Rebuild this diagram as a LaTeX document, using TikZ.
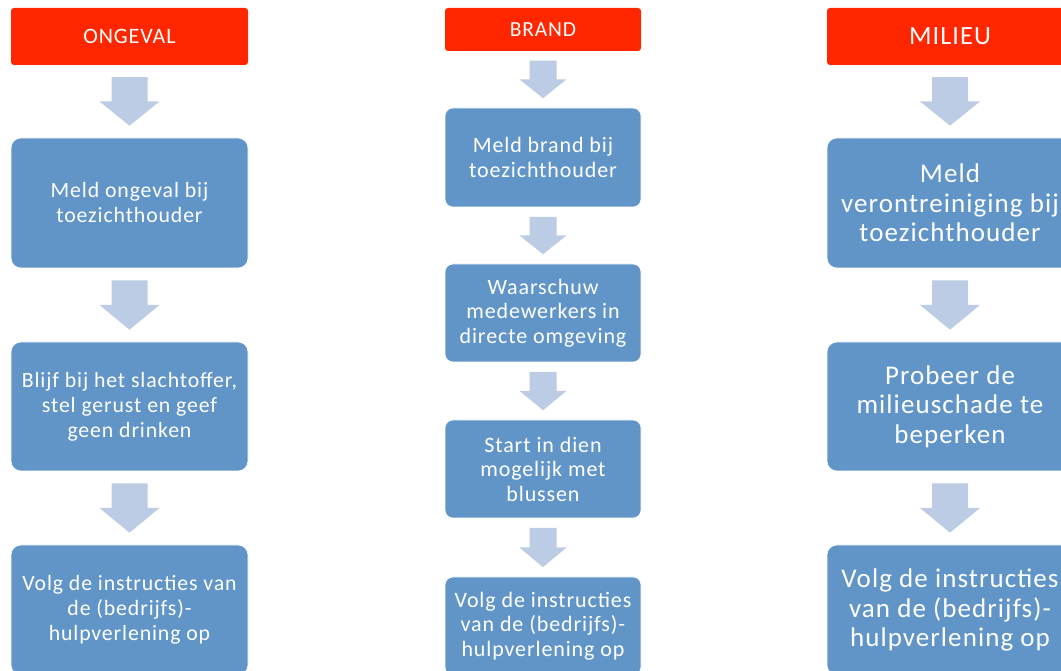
\documentclass[tikz,border=0pt]{standalone}
\usepackage{fontspec}
\setmainfont[LetterSpace=4]{Carlito}
\usetikzlibrary{calc,positioning}

\definecolor{kopRood}{RGB}{255,38,0}
\definecolor{stapBlauw}{RGB}{97,149,200}
\definecolor{pijlBlauw}{RGB}{188,204,228}

% blok-pijl van #1 naar #2, marge #3, halve schachtbreedte #4, halve kopbreedte #5
\newcommand{\blokpijl}[5]{%
	\fill[pijlBlauw] let \p1=(#1.south), \p2=(#2.north), \n1={(\y1+\y2)/2} in
		(\x1-#4,\y1-#3) -- (\x1+#4,\y1-#3) -- (\x1+#4,\n1) -- (\x1+#5,\n1)
		-- (\x1,\y2+#3) -- (\x1-#5,\n1) -- (\x1-#4,\n1) -- cycle;}

\begin{document}
\begin{tikzpicture}[x=1pt,y=1pt,
		kop/.style={fill=kopRood,text=white,rounded corners=3pt,inner sep=0pt,align=center},
		stap/.style={fill=stapBlauw,draw=white,line width=0.6pt,text=white,rounded corners=10pt,inner sep=0pt,align=center},
		klein/.style={font=\fontsize{21.8}{25}\selectfont},
		groot/.style={font=\fontsize{27}{29.5}\selectfont}
	]
	\useasboundingbox (0,0) rectangle (1061,670);

	% ongeval
	\node[kop,minimum width=237,minimum height=57,font=\fontsize{22}{25}\selectfont] (ong0) at (129.5,633.5) {ONGEVAL};
	\node[stap,klein,minimum width=237,minimum height=130] (ong1) at (129.5,467) {Meld ongeval bij\\toezichthouder};
	\node[stap,klein,minimum width=237,minimum height=129] (ong2) at (129.5,263.5) {Blijf bij het slachtoffer,\\stel gerust en geef\\geen drinken};
	\node[stap,klein,minimum width=237,minimum height=130] (ong3) at (129.5,60) {Volg de instructies van\\de (bedrijfs)-\\hulpverlening op};

	\blokpijl{ong0}{ong1}{12}{18}{30}
	\blokpijl{ong1}{ong2}{12}{18}{30}
	\blokpijl{ong2}{ong3}{12}{18}{30}

	% brand
	\node[kop,minimum width=196,minimum height=43,font=\fontsize{21.5}{24}\selectfont] (brd0) at (543,640.5) {BRAND};
	\node[stap,font=\fontsize{22}{24.5}\selectfont,rounded corners=8pt,minimum width=196,minimum height=99] (brd1) at (543,512.5) {Meld brand bij\\toezichthouder};
	\node[stap,font=\fontsize{22}{24.5}\selectfont,rounded corners=8pt,minimum width=196,minimum height=98] (brd2) at (543,357) {Waarschuw\\medewerkers in\\directe omgeving};
	\node[stap,font=\fontsize{22}{24.5}\selectfont,rounded corners=8pt,minimum width=196,minimum height=98] (brd3) at (543,201) {Start in dien\\mogelijk met\\blussen};
	\node[stap,font=\fontsize{22}{24.5}\selectfont,rounded corners=8pt,minimum width=196,minimum height=98] (brd4) at (543,44) {Volg de instructies\\van de (bedrijfs)-\\hulpverlening op};

	\blokpijl{brd0}{brd1}{9.5}{13.5}{23.5}
	\blokpijl{brd1}{brd2}{9.5}{13.5}{23.5}
	\blokpijl{brd2}{brd3}{9.5}{13.5}{23.5}
	\blokpijl{brd3}{brd4}{9.5}{13.5}{23.5}

	% milieu
	\node[kop,minimum width=246,minimum height=57,font=\fontsize{26.3}{29}\selectfont] (mil0) at (950,633.5) {MILIEU};
	\node[stap,groot,minimum width=246,minimum height=130] (mil1) at (950,467) {Meld\\verontreiniging bij\\toezichthouder};
	\node[stap,groot,minimum width=246,minimum height=129] (mil2) at (950,263.5) {Probeer de\\milieuschade te\\beperken};
	\node[stap,groot,minimum width=246,minimum height=130] (mil3) at (950,60) {Volg de instructies\\van de (bedrijfs)-\\hulpverlening op};

	\blokpijl{mil0}{mil1}{12}{18}{30}
	\blokpijl{mil1}{mil2}{12}{18}{30}
	\blokpijl{mil2}{mil3}{12}{18}{30}

\end{tikzpicture}
\end{document}
